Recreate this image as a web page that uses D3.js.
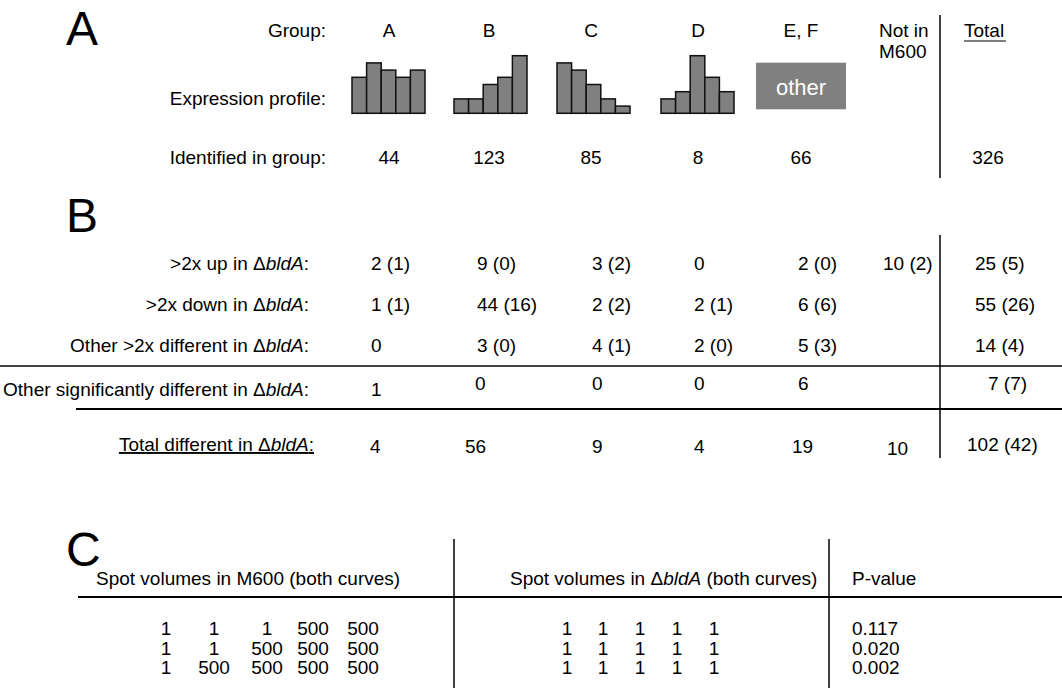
<!DOCTYPE html>
<html><head><meta charset="utf-8">
<script src="https://cdn.jsdelivr.net/npm/d3@7"></script>
<style>body{margin:0;background:#fff}svg{display:block}text{font-family:"Liberation Sans",Arial,Helvetica,sans-serif;fill:#000}</style>
</head><body><svg id="c" width="1062" height="688"></svg>
<script>
// ---- data ----
const groups = ["A", "B", "C", "D", "E, F"];
const profileA = [5, 7, 6, 5, 6];
const profileB = [2, 2, 4, 5, 8];
const profileC = [7, 6, 4, 2, 1];
const profileD = [2, 3, 8, 5, 3];
const profiles = [profileA, profileB, profileC, profileD];
const identified = ["44", "123", "85", "8", "66", "", "326"];
const rowLabels = [">2x up in ", ">2x down in ", "Other >2x different in ", "Other significantly different in "];
const upVals = ["2 (1)", "9 (0)", "3 (2)", "0", "2 (0)", "10 (2)", "25 (5)"];
const downVals = ["1 (1)", "44 (16)", "2 (2)", "2 (1)", "6 (6)", "", "55 (26)"];
const otherVals = ["0", "3 (0)", "4 (1)", "2 (0)", "5 (3)", "", "14 (4)"];
const sigVals = ["1", "0", "0", "0", "6", "", "7 (7)"];
const totalVals = ["4", "56", "9", "4", "19", "10", "102 (42)"];
const m600Vols = [[1, 1, 1, 500, 500], [1, 1, 500, 500, 500], [1, 500, 500, 500, 500]];
const bldaVols = [[1, 1, 1, 1, 1], [1, 1, 1, 1, 1], [1, 1, 1, 1, 1]];
const pValues = ["0.117", "0.020", "0.002"];

// ---- layout ----
const svg = d3.select("#c");
const FS = 19;
const headC = [389, 489, 591, 698, 801, 0, 988];
const tabs = [371, 477, 592, 694, 798, 883, 975];
const vx = 940;

function txt(x, y, s, anchor, size) {
  return svg.append("text").attr("x", x).attr("y", y).attr("text-anchor", anchor || "start")
    .attr("font-size", size || FS).text(s);
}
function bld(x, y, pre, post, anchor) {
  const t = svg.append("text").attr("x", x).attr("y", y).attr("text-anchor", anchor || "end").attr("font-size", FS);
  t.append("tspan").text(pre + "\u0394");
  t.append("tspan").attr("font-style", "italic").text("bldA");
  t.append("tspan").text(post);
  return t;
}
function line(x1, y1, x2, y2, w) {
  svg.append("line").attr("x1", x1).attr("y1", y1).attr("x2", x2).attr("y2", y2)
    .attr("stroke", "#000").attr("stroke-width", w || 1.5);
}

// Panel letters
txt(66, 45, "A", "start", 48);
txt(66, 232, "B", "start", 48);
txt(66, 566, "C", "start", 48);

// ---- Panel A ----
txt(326, 37, "Group:", "end");
groups.forEach((g, i) => txt(headC[i], 37, g, "middle"));
txt(879, 37, "Not in");
txt(879, 58, "M600");
txt(964, 37, "Total");
line(964, 41, 1006, 41, 1.2);
txt(326, 105, "Expression profile:", "end");

const hy = d3.scaleLinear().domain([0, 8]).range([113.3, 55.7]);
const hStarts = [352, 454, 557, 661];
profiles.forEach((p, i) => {
  const hx = d3.scaleBand().domain(d3.range(5)).range([hStarts[i], hStarts[i] + 73]).padding(0);
  svg.append("g").selectAll("rect").data(p).join("rect")
    .attr("x", (d, j) => hx(j)).attr("width", hx.bandwidth())
    .attr("y", d => hy(d)).attr("height", d => hy(0) - hy(d))
    .attr("fill", "#808080").attr("stroke", "#111").attr("stroke-width", 1.5);
});
svg.append("rect").attr("x", 756).attr("y", 62.7).attr("width", 90).attr("height", 46.6).attr("fill", "#808080");
svg.append("text").attr("x", 801).attr("y", 95).attr("text-anchor", "middle").attr("font-size", 22)
  .style("fill", "#fff").text("other");

txt(326, 164, "Identified in group:", "end");
identified.forEach((v, i) => { if (v) txt(headC[i], 164, v, "middle"); });
line(vx, 15, vx, 178);

// ---- Panel B ----
const rows = [upVals, downVals, otherVals, sigVals];
const rowY = [270, 311, 352, 396];
rows.forEach((vals, r) => {
  bld(309, rowY[r], rowLabels[r], ":");
  vals.forEach((v, i) => {
    if (!v) return;
    let y = rowY[r], x = tabs[i];
    if (r === 3 && i > 0) y -= 6;
    if (r === 3 && i === 1) x = 475;
    if (r === 3 && i === 6) x = 988;
    txt(x, y, v, "start");
  });
});
line(vx, 235, vx, 458);
line(0, 366, 1062, 366, 1.5);
line(76, 409, 1062, 409, 2);

const tl = bld(314, 451, "Total different in ", ":");
tl.attr("text-decoration", "underline");
const totX = [370, 465, 592, 694, 792, 887, 967];
totalVals.forEach((v, i) => {
  let y = 453;
  if (i === 5) y = 455;
  if (i === 6) y = 451;
  txt(totX[i], y, v, "start");
});

// ---- Panel C ----
line(454, 539, 454, 688);
line(829, 539, 829, 688);
line(78, 597, 1062, 597, 2);
txt(96, 585, "Spot volumes in M600 (both curves)");
bld(510, 585, "Spot volumes in ", " (both curves)", "start");
txt(852, 585, "P-value");
const rowYC = [635, 654.5, 674];
const mX = [166, 214, 267, 313, 363];
const bX = [567, 603, 640, 677, 714];
m600Vols.forEach((r, k) => r.forEach((v, j) => txt(mX[j], rowYC[k], String(v), "middle")));
bldaVols.forEach((r, k) => r.forEach((v, j) => txt(bX[j], rowYC[k], String(v), "middle")));
pValues.forEach((p, k) => txt(852, rowYC[k], p));
</script></body></html>
